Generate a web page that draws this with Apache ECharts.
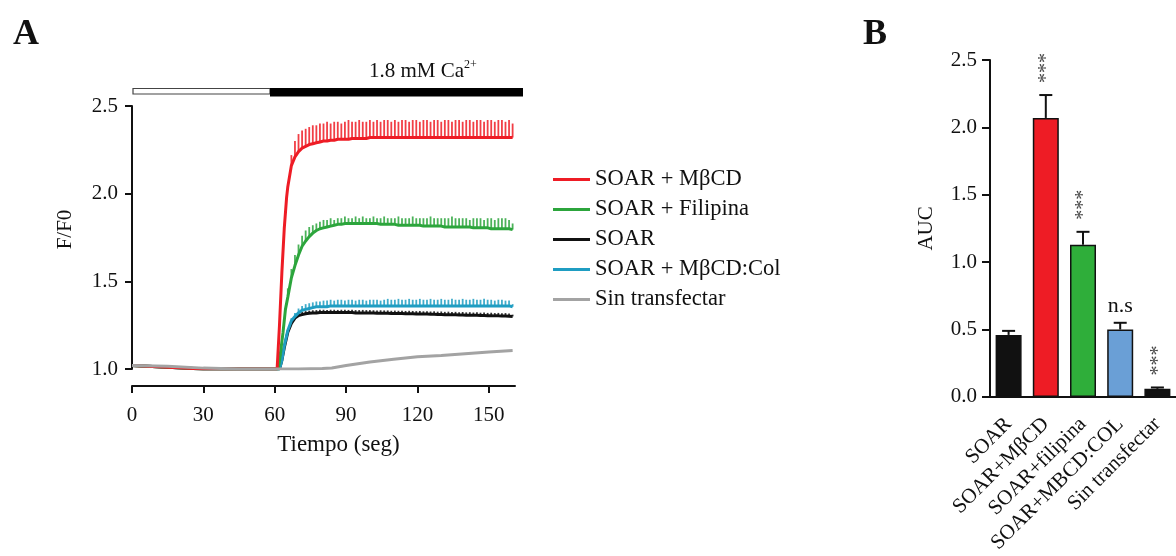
<!DOCTYPE html>
<html>
<head>
<meta charset="utf-8">
<script src="https://cdn.jsdelivr.net/npm/echarts@6/dist/echarts.min.js"></script>
<style>
    html, body { margin: 0; padding: 0; background: #fff; }
    #chart { width: 1176px; height: 556px; }
</style>
</head>
<body>
<div id="chart"></div>
<script>
    // ---- panel A: F/F0 traces ----
    var seriesNames = ['SOAR + MβCD', 'SOAR + Filipina', 'SOAR', 'SOAR + MβCD:Col', 'Sin transfectar'];
    var colors = ['#ee1c25', '#2ca53c', '#111111', '#1f9dc2', '#a3a3a3'];

    // shared sample times of the oscillating plateau part
    var spikeT = [65.5, 67, 68.5, 70, 71.5, 73, 74.5, 76, 77.5, 79,
        80.5, 82, 83.5, 85, 86.5, 88, 89.5, 91, 92.5, 94,
        95.5, 97, 98.5, 100, 101.5, 103, 104.5, 106, 107.5, 109,
        110.5, 112, 113.5, 115, 116.5, 118, 119.5, 121, 122.5, 124,
        125.5, 127, 128.5, 130, 131.5, 133, 134.5, 136, 137.5, 139,
        140.5, 142, 143.5, 145, 146.5, 148, 149.5, 151, 152.5, 154,
        155.5, 157, 158.5, 160];

    // early part of each trace (before the sampled plateau)
    var redStart = [[0, 1.02], [15, 1.01], [30, 1.0], [60, 1.0], [61, 1.0], [62, 1.25], [63, 1.55], [64, 1.8], [65, 1.98]];
    var greenStart = [[0, 1.02], [15, 1.01], [30, 1.0], [60, 1.0], [61.5, 1.0], [62.5, 1.1], [63.5, 1.21], [64.5, 1.34]];
    var blackStart = [[0, 1.02], [15, 1.01], [30, 1.0], [60, 1.0], [62, 1.0], [63, 1.05], [64, 1.12], [65, 1.18]];
    var cyanStart = [[0, 1.02], [15, 1.01], [30, 1.0], [60, 1.0], [62, 1.0], [63, 1.05], [64, 1.13], [65, 1.19]];
    var grayTrace = [[0, 1.02], [15, 1.015], [30, 1.005], [45, 1.0], [60, 1.0], [70, 1.0], [80, 1.003], [84, 1.006],
        [90, 1.02], [100, 1.04], [110, 1.055], [120, 1.07], [130, 1.077], [140, 1.087], [150, 1.097], [160, 1.105]];

    var redBase = [2.04, 2.16, 2.21, 2.24, 2.26, 2.27, 2.28, 2.285, 2.29, 2.295,
        2.30, 2.30, 2.305, 2.305, 2.31, 2.31, 2.31, 2.31, 2.315, 2.315,
        2.315, 2.315, 2.315, 2.32, 2.32, 2.32, 2.32, 2.32, 2.32, 2.32,
        2.32, 2.32, 2.32, 2.32, 2.32, 2.32, 2.32, 2.32, 2.32, 2.32,
        2.32, 2.32, 2.32, 2.32, 2.32, 2.32, 2.32, 2.32, 2.32, 2.32,
        2.32, 2.32, 2.32, 2.32, 2.32, 2.32, 2.32, 2.32, 2.32, 2.32,
        2.32, 2.32, 2.32, 2.32];
    var redTop = [2.04, 2.22, 2.30, 2.34, 2.36, 2.37, 2.38, 2.39, 2.39, 2.40,
        2.40, 2.41, 2.40, 2.41, 2.41, 2.40, 2.41, 2.42, 2.41, 2.41,
        2.42, 2.41, 2.41, 2.42, 2.41, 2.42, 2.41, 2.42, 2.42, 2.41,
        2.42, 2.41, 2.42, 2.42, 2.41, 2.42, 2.42, 2.41, 2.42, 2.42,
        2.41, 2.42, 2.42, 2.41, 2.42, 2.42, 2.41, 2.42, 2.42, 2.41,
        2.42, 2.42, 2.41, 2.42, 2.42, 2.41, 2.42, 2.42, 2.41, 2.42,
        2.42, 2.41, 2.42, 2.40];

    var greenBase = [1.41, 1.52, 1.59, 1.65, 1.70, 1.73, 1.755, 1.775, 1.79, 1.80,
        1.805, 1.81, 1.815, 1.82, 1.825, 1.825, 1.83, 1.83, 1.83, 1.83,
        1.83, 1.83, 1.83, 1.83, 1.83, 1.83, 1.825, 1.825, 1.825, 1.825,
        1.825, 1.82, 1.82, 1.82, 1.82, 1.82, 1.82, 1.82, 1.815, 1.815,
        1.815, 1.815, 1.815, 1.815, 1.81, 1.81, 1.81, 1.81, 1.81, 1.81,
        1.81, 1.81, 1.805, 1.805, 1.805, 1.805, 1.805, 1.80, 1.80, 1.80,
        1.80, 1.80, 1.80, 1.795];
    var greenTop = [1.46, 1.57, 1.65, 1.71, 1.76, 1.79, 1.81, 1.82, 1.83, 1.84,
        1.85, 1.85, 1.86, 1.85, 1.86, 1.86, 1.87, 1.86, 1.86, 1.87,
        1.86, 1.87, 1.86, 1.86, 1.87, 1.86, 1.86, 1.87, 1.86, 1.86,
        1.86, 1.87, 1.86, 1.86, 1.86, 1.87, 1.86, 1.86, 1.86, 1.86,
        1.87, 1.86, 1.86, 1.86, 1.86, 1.86, 1.87, 1.86, 1.86, 1.86,
        1.86, 1.85, 1.86, 1.86, 1.86, 1.85, 1.86, 1.86, 1.85, 1.86,
        1.86, 1.86, 1.85, 1.83];

    var blackBase = [1.21, 1.26, 1.29, 1.305, 1.31, 1.315, 1.318, 1.32, 1.32, 1.322,
        1.322, 1.322, 1.322, 1.322, 1.322, 1.322, 1.322, 1.322, 1.322, 1.32,
        1.32, 1.32, 1.32, 1.32, 1.32, 1.318, 1.318, 1.318, 1.318, 1.316,
        1.316, 1.316, 1.316, 1.315, 1.315, 1.315, 1.314, 1.314, 1.313, 1.313,
        1.312, 1.312, 1.311, 1.311, 1.31, 1.31, 1.309, 1.309, 1.308, 1.308,
        1.307, 1.307, 1.306, 1.306, 1.305, 1.305, 1.304, 1.304, 1.303, 1.303,
        1.302, 1.302, 1.301, 1.30];
    var blackTop = [1.21, 1.27, 1.30, 1.318, 1.325, 1.33, 1.333, 1.335, 1.336, 1.338,
        1.338, 1.337, 1.338, 1.338, 1.337, 1.338, 1.338, 1.337, 1.338, 1.336,
        1.336, 1.337, 1.336, 1.336, 1.335, 1.334, 1.335, 1.334, 1.334, 1.332,
        1.333, 1.332, 1.332, 1.331, 1.332, 1.331, 1.33, 1.331, 1.329, 1.33,
        1.328, 1.329, 1.327, 1.328, 1.326, 1.327, 1.325, 1.326, 1.324, 1.325,
        1.323, 1.324, 1.322, 1.323, 1.321, 1.322, 1.32, 1.321, 1.319, 1.32,
        1.318, 1.319, 1.317, 1.31];

    var cyanBase = [1.22, 1.275, 1.30, 1.32, 1.335, 1.34, 1.345, 1.35, 1.355, 1.355,
        1.355, 1.355, 1.36, 1.36, 1.36, 1.36, 1.36, 1.36, 1.36, 1.36,
        1.36, 1.36, 1.36, 1.36, 1.36, 1.36, 1.36, 1.36, 1.36, 1.36,
        1.36, 1.36, 1.36, 1.36, 1.36, 1.36, 1.36, 1.36, 1.36, 1.36,
        1.36, 1.36, 1.36, 1.36, 1.36, 1.36, 1.36, 1.36, 1.36, 1.36,
        1.36, 1.36, 1.36, 1.36, 1.36, 1.36, 1.36, 1.36, 1.36, 1.36,
        1.36, 1.36, 1.36, 1.355];
    var cyanTop = [1.23, 1.29, 1.32, 1.345, 1.36, 1.37, 1.375, 1.38, 1.385, 1.385,
        1.39, 1.39, 1.395, 1.39, 1.395, 1.395, 1.39, 1.395, 1.395, 1.39,
        1.395, 1.395, 1.39, 1.395, 1.395, 1.395, 1.39, 1.395, 1.40, 1.395,
        1.395, 1.40, 1.395, 1.395, 1.40, 1.395, 1.395, 1.40, 1.395, 1.395,
        1.40, 1.395, 1.395, 1.40, 1.395, 1.395, 1.40, 1.395, 1.395, 1.40,
        1.395, 1.395, 1.40, 1.395, 1.395, 1.40, 1.395, 1.395, 1.39, 1.395,
        1.395, 1.39, 1.39, 1.37];

    // ---- panel B: AUC ----
    var categories = ['SOAR', 'SOAR+MβCD', 'SOAR+filipina', 'SOAR+MBCD:COL', 'Sin transfectar'];
    var aucMean = [0.46, 2.07, 1.13, 0.50, 0.06];
    var aucErr = [0.03, 0.17, 0.095, 0.05, 0.01];
    var aucColors = ['#111111', '#ee1c25', '#2fae3a', '#6a9fd6', '#111111'];
    var sigLabels = ['', '***', '***', 'n.s', '***'];

    var FONT = '"Liberation Serif", "DejaVu Serif", serif';

    function plateau(base) {
        return spikeT.map(function (t, i) { return [t, base[i]]; });
    }
    function spikes(base, top) {
        return spikeT.map(function (t, i) { return [t, base[i], top[i]]; });
    }
    function spikeSeries(name, color, base, top) {
        return {
            name: name,
            type: 'custom',
            xAxisIndex: 0,
            yAxisIndex: 0,
            silent: true,
            data: spikes(base, top),
            encode: {x: 0, y: [1, 2]},
            renderItem: function (params, api) {
                var p1 = api.coord([api.value(0), api.value(1)]);
                var p2 = api.coord([api.value(0), api.value(2)]);
                return {
                    type: 'line',
                    shape: {x1: p1[0], y1: p1[1], x2: p2[0], y2: p2[1]},
                    style: {stroke: color, lineWidth: 1.8, opacity: 0.85}
                };
            }
        };
    }
    function traceSeries(idx, data) {
        return {
            name: seriesNames[idx],
            type: 'line',
            xAxisIndex: 0,
            yAxisIndex: 0,
            data: data,
            symbol: 'none',
            smooth: false,
            lineStyle: {color: colors[idx], width: 3},
            itemStyle: {color: colors[idx]}
        };
    }

    var myChart = echarts.init(document.getElementById('chart'));

    myChart.setOption({
        backgroundColor: '#ffffff',
        animation: false,
        textStyle: {fontFamily: FONT, color: '#111'},
        title: [
            {text: 'A', left: 8, top: 12, textStyle: {fontFamily: FONT, fontSize: 36, fontWeight: 'bold', color: '#111'}},
            {text: 'B', left: 858, top: 12, textStyle: {fontFamily: FONT, fontSize: 36, fontWeight: 'bold', color: '#111'}}
        ],
        legend: {
            orient: 'vertical',
            left: 548,
            top: 163,
            itemWidth: 37,
            itemHeight: 3,
            itemGap: 7,
            icon: 'rect',
            data: seriesNames,
            selectedMode: false,
            textStyle: {fontFamily: FONT, fontSize: 22.5, color: '#111', lineHeight: 23}
        },
        grid: [
            {left: 132, top: 106, width: 383, height: 263},
            {left: 990, top: 60, width: 194, height: 338}
        ],
        xAxis: [{
            gridIndex: 0,
            type: 'value',
            min: 0,
            max: 161,
            interval: 30,
            offset: 17,
            name: 'Tiempo (seg)',
            nameLocation: 'middle',
            nameGap: 47,
            nameTextStyle: {fontFamily: FONT, fontSize: 23, color: '#111', padding: [0, 0, 0, 30]},
            axisLine: {lineStyle: {color: '#111', width: 2}},
            axisTick: {length: 7, lineStyle: {color: '#111', width: 2}},
            axisLabel: {fontFamily: FONT, fontSize: 21, color: '#111', margin: 19},
            splitLine: {show: false}
        }, {
            gridIndex: 1,
            type: 'category',
            data: categories,
            axisLine: {lineStyle: {color: '#111', width: 2}},
            axisTick: {alignWithLabel: true, length: 8, lineStyle: {color: '#111', width: 2}},
            axisLabel: {fontFamily: FONT, fontSize: 21, color: '#111', rotate: 45, margin: 24, interval: 0}
        }],
        yAxis: [{
            gridIndex: 0,
            type: 'value',
            min: 1.0,
            max: 2.5,
            interval: 0.5,
            name: 'F/F0',
            nameLocation: 'middle',
            nameGap: 56,
            nameTextStyle: {fontFamily: FONT, fontSize: 21, color: '#111', padding: [0, 0, 0, 16]},
            axisLine: {show: true, lineStyle: {color: '#111', width: 2}},
            axisTick: {show: true, length: 7, lineStyle: {color: '#111', width: 2}},
            axisLabel: {fontFamily: FONT, fontSize: 21, color: '#111', margin: 14, formatter: function (v) { return v.toFixed(1); }},
            splitLine: {show: false}
        }, {
            gridIndex: 1,
            type: 'value',
            min: 0,
            max: 2.5,
            interval: 0.5,
            name: 'AUC',
            nameLocation: 'middle',
            nameGap: 53,
            nameTextStyle: {fontFamily: FONT, fontSize: 21, color: '#111'},
            axisLine: {show: true, lineStyle: {color: '#111', width: 2}},
            axisTick: {show: true, length: 8, lineStyle: {color: '#111', width: 2}},
            axisLabel: {fontFamily: FONT, fontSize: 21, color: '#111', margin: 13, formatter: function (v) { return v.toFixed(1); }},
            splitLine: {show: false}
        }],
        graphic: [
            // 1.8 mM Ca2+ application bar
            {type: 'rect', shape: {x: 133, y: 88.5, width: 137, height: 5.5}, style: {fill: '#fff', stroke: '#444', lineWidth: 1.2}},
            {type: 'rect', shape: {x: 270, y: 88, width: 253, height: 8.5}, style: {fill: '#000'}},
            {type: 'text', x: 369, y: 59, style: {
                text: '{a|1.8 mM Ca}{s|2+}',
                rich: {
                    a: {fontFamily: FONT, fontSize: 21, fill: '#111'},
                    s: {fontFamily: FONT, fontSize: 12, fill: '#111', verticalAlign: 'top', padding: [0, 0, 12, 0]}
                }
            }}
        ],
        series: [
            traceSeries(2, blackStart.concat(plateau(blackBase))),
            spikeSeries('spk-black', colors[2], blackBase, blackTop),
            traceSeries(3, cyanStart.concat(plateau(cyanBase))),
            spikeSeries('spk-cyan', colors[3], cyanBase, cyanTop),
            traceSeries(1, greenStart.concat(plateau(greenBase))),
            spikeSeries('spk-green', colors[1], greenBase, greenTop),
            traceSeries(0, redStart.concat(plateau(redBase))),
            spikeSeries('spk-red', colors[0], redBase, redTop),
            traceSeries(4, grayTrace),
            {
                name: 'AUC',
                type: 'bar',
                xAxisIndex: 1,
                yAxisIndex: 1,
                barWidth: 26,
                data: aucMean.map(function (v, i) {
                    return {value: v, itemStyle: {color: aucColors[i]}};
                }),
                itemStyle: {borderColor: '#111', borderWidth: 1.5}
            },
            {
                name: 'err',
                type: 'custom',
                xAxisIndex: 1,
                yAxisIndex: 1,
                silent: true,
                z: 3,
                data: aucMean.map(function (v, i) { return [i, v, v + aucErr[i]]; }),
                renderItem: function (params, api) {
                    var lo = api.coord([api.value(0), api.value(1)]);
                    var hi = api.coord([api.value(0), api.value(2)]);
                    return {
                        type: 'group',
                        children: [
                            {type: 'line', shape: {x1: lo[0], y1: lo[1], x2: hi[0], y2: hi[1]}, style: {stroke: '#111', lineWidth: 2}},
                            {type: 'line', shape: {x1: hi[0] - 6.5, y1: hi[1], x2: hi[0] + 6.5, y2: hi[1]}, style: {stroke: '#111', lineWidth: 2}}
                        ]
                    };
                }
            },
            {
                name: 'sig',
                type: 'custom',
                xAxisIndex: 1,
                yAxisIndex: 1,
                silent: true,
                z: 4,
                data: aucMean.map(function (v, i) { return [i, v + aucErr[i]]; }),
                renderItem: function (params, api) {
                    var i = params.dataIndex;
                    var p = api.coord([api.value(0), api.value(1)]);
                    var txt = sigLabels[i];
                    if (!txt) return null;
                    if (txt === 'n.s') {
                        return {type: 'text', x: p[0], y: p[1] - 6, style: {
                            text: txt, fontFamily: FONT, fontSize: 22, fill: '#111', align: 'center', verticalAlign: 'bottom'
                        }};
                    }
                    return {type: 'text', x: p[0] + 1, y: p[1] - 12, rotation: Math.PI / 2, style: {
                        text: txt, fontFamily: FONT, fontSize: 20, fill: '#444', align: 'left', verticalAlign: 'middle'
                    }};
                }
            }
        ]
    });
</script>
</body>
</html>
